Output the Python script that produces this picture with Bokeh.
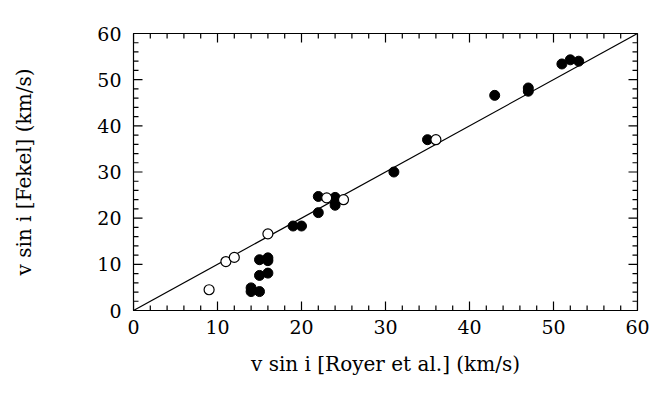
from bokeh.plotting import figure
from bokeh.models import Range1d, SingleIntervalTicker
from bokeh.embed import file_html
from bokeh.resources import INLINE

# Filled circles
filled_x = [14, 14, 15, 15, 16, 16, 15, 16, 19, 20, 22, 22, 24, 24, 24, 31, 35, 43, 47, 47, 51, 52, 53]
filled_y = [4.9, 4.1, 4.1, 7.6, 8.1, 10.8, 11.0, 11.4, 18.3, 18.3, 21.2, 24.7, 24.5, 23.6, 22.8, 30.0, 37.0, 46.6, 47.5, 48.2, 53.4, 54.3, 54.0]
# Open circles
open_x = [9, 11, 12, 16, 23, 25, 36]
open_y = [4.5, 10.6, 11.5, 16.6, 24.4, 24.0, 37.0]
# one-to-one line
line_x = [0, 60]
line_y = [0, 60]
# tick values (both axes)
major_ticks = [0, 10, 20, 30, 40, 50, 60]
minor_ticks = [v for v in range(0, 61, 2) if v % 10 != 0]
axis_min, axis_max = 0, 60

FONT = "DejaVu Serif"
W, H = 658, 397
BL, BR, BT, BB = 133, 21, 33, 87
px_x = (W - BL - BR) / (axis_max - axis_min)   # pixels per unit along x
px_y = (H - BT - BB) / (axis_max - axis_min)   # pixels per unit along y

p = figure(width=W, height=H, output_backend="svg", toolbar_location=None,
           x_range=Range1d(axis_min, axis_max), y_range=Range1d(axis_min, axis_max),
           min_border_left=BL, min_border_right=BR, min_border_top=BT, min_border_bottom=BB,
           background_fill_color="white", border_fill_color="white")
p.xgrid.visible = False
p.ygrid.visible = False
p.outline_line_color = "black"
p.outline_line_width = 1.2

for ax in (p.xaxis[0], p.yaxis[0]):
    ax.ticker = SingleIntervalTicker(interval=10, num_minor_ticks=5)
    ax.major_tick_in = 0
    ax.major_tick_out = 0
    ax.minor_tick_in = 0
    ax.minor_tick_out = 0
    ax.axis_line_color = "black"
    ax.major_label_text_font = FONT
    ax.major_label_text_font_size = "19px"
    ax.major_label_text_color = "black"
    ax.axis_label_text_font = FONT
    ax.axis_label_text_font_size = "20px"
    ax.axis_label_text_font_style = "normal"
    ax.axis_label_text_color = "black"

p.xaxis[0].axis_label = "v sin i [Royer et al.] (km/s)"
p.yaxis[0].axis_label = "v sin i [Fekel] (km/s)"
p.xaxis[0].major_label_standoff = 9
p.xaxis[0].axis_label_standoff = 15
p.yaxis[0].major_label_standoff = 12
p.yaxis[0].axis_label_standoff = 58

# inward ticks drawn as segments from the four frame edges
for ticks, L in ((major_ticks, 9), (minor_ticks, 5)):
    n = len(ticks)
    ly = L / px_y
    lx = L / px_x
    p.segment(x0=ticks, y0=[axis_min] * n, x1=ticks, y1=[axis_min + ly] * n, line_color="black", line_width=1.2)
    p.segment(x0=ticks, y0=[axis_max] * n, x1=ticks, y1=[axis_max - ly] * n, line_color="black", line_width=1.2)
    p.segment(x0=[axis_min] * n, y0=ticks, x1=[axis_min + lx] * n, y1=ticks, line_color="black", line_width=1.2)
    p.segment(x0=[axis_max] * n, y0=ticks, x1=[axis_max - lx] * n, y1=ticks, line_color="black", line_width=1.2)

p.line(line_x, line_y, line_color="black", line_width=1.2)
p.scatter(filled_x, filled_y, size=10, marker="circle", fill_color="black", line_color="black")
p.scatter(open_x, open_y, size=10, marker="circle", fill_color="white", line_color="black", line_width=1.2)

open("out.html", "w").write(file_html(p, INLINE))
